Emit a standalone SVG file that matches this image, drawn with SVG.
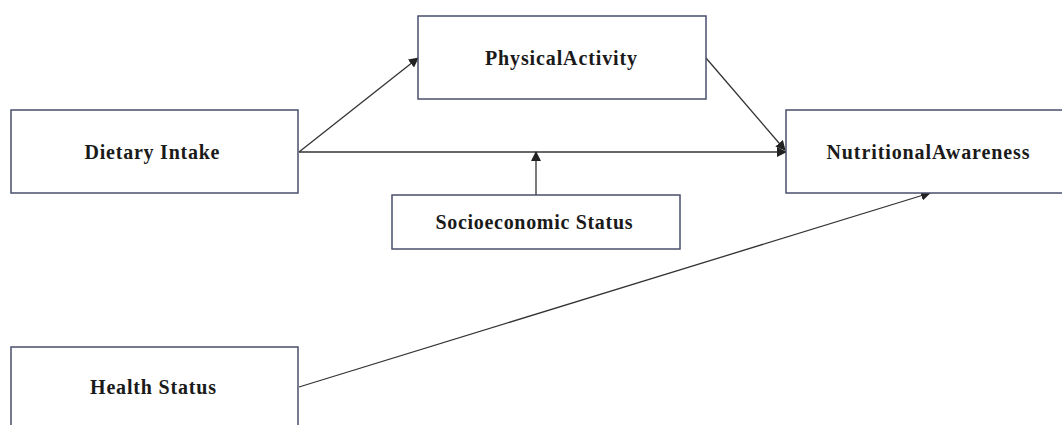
<svg xmlns="http://www.w3.org/2000/svg" width="1062" height="425" viewBox="0 0 1062 425">
<style>
.box{fill:#fff;stroke:#4a4f6e;stroke-width:1.5}
.lbl{font-family:"Liberation Serif","Times New Roman",serif;font-weight:bold;font-size:20px;fill:#1a1a1a;text-anchor:middle}
.edge{stroke:#333;stroke-width:1.3;fill:none;marker-end:url(#ah)}
</style>
<defs>
<marker id="ah" viewBox="0 0 10 10" refX="9" refY="5" markerWidth="10" markerHeight="10" markerUnits="userSpaceOnUse" orient="auto">
<path d="M0,0 L10,5 L0,10 z" fill="#222"/>
</marker>
</defs>
<rect width="1062" height="425" fill="#fff"/>
<g id="connectors">
<line class="edge" x1="299" y1="152" x2="418" y2="58"/>
<line class="edge" x1="299" y1="152" x2="786" y2="152"/>
<line class="edge" x1="706" y1="58" x2="785" y2="150"/>
<line class="edge" x1="536" y1="195" x2="536" y2="152"/>
<line class="edge" x1="299" y1="387" x2="930" y2="193"/>
</g>
<g id="dietary">
<rect class="box" x="11" y="110" width="287" height="83"/>
<text class="lbl" x="152" y="159" textLength="135" lengthAdjust="spacing">Dietary Intake</text>
</g>
<g id="physical">
<rect class="box" x="418" y="16" width="288" height="83"/>
<text class="lbl" x="561" y="65" textLength="152" lengthAdjust="spacing">PhysicalActivity</text>
</g>
<g id="nutritional">
<rect class="box" x="786" y="110" width="290" height="83"/>
<text class="lbl" x="928" y="159" textLength="203" lengthAdjust="spacing">NutritionalAwareness</text>
</g>
<g id="socioeconomic">
<rect class="box" x="392" y="195" width="288" height="54"/>
<text class="lbl" x="534" y="229" textLength="197" lengthAdjust="spacing">Socioeconomic Status</text>
</g>
<g id="health">
<rect class="box" x="11" y="347" width="287" height="90"/>
<text class="lbl" x="153" y="394" textLength="126" lengthAdjust="spacing">Health Status</text>
</g>
</svg>
